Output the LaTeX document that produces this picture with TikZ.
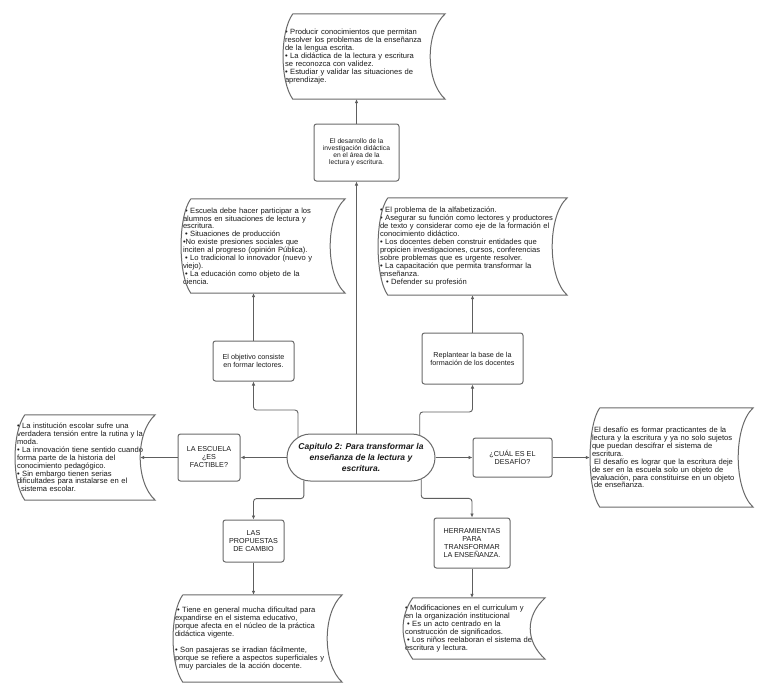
\documentclass[tikz,border=0pt]{standalone}
\usepackage{fontspec}
\setmainfont{Liberation Sans}
\usetikzlibrary{arrows.meta,shapes.misc}
\definecolor{ink}{HTML}{1A1A1A}
\definecolor{linegray}{HTML}{5E5E5E}
\definecolor{boxgray}{HTML}{6A6A6A}
\tikzset{
box/.style={draw=boxgray,rounded corners=2.5pt,line width=1pt,fill=white,align=center,inner sep=2pt,font=\fontsize{7.2}{8}\selectfont,text=ink},
doc/.style={align=left,inner xsep=2pt,inner ysep=0pt,font=\fontsize{7.6}{7.9}\selectfont,text=ink},
docline/.style={draw=boxgray,line width=1pt},
hub/.style={rounded rectangle,draw=boxgray,line width=1pt,fill=white,align=center,inner sep=0pt,minimum width=148pt,minimum height=47pt,font=\fontsize{8.5}{10.7}\selectfont\bfseries\itshape,text=ink},
arr/.style={-{Latex[length=4pt,width=3.6pt]},line width=.9pt,draw=linegray,rounded corners=3pt}}
\begin{document}
\begin{tikzpicture}[x=1pt,y=-1pt]
\path[fill=white,use as bounding box] (0,0) rectangle (768,699);
% centre and the eight boxes
\node[hub] (hub) at (361,457.5) {Capitulo 2: Para transformar la\\enseñanza de la lectura y\\escritura.};
\node[box,minimum width=85pt,minimum height=57pt,font=\fontsize{6.7}{7}\selectfont] (research) at (356.5,152.5) {El desarrollo de la\\investigación didáctica\\en el área de la\\lectura y escritura.};
\node[box,minimum width=81pt,minimum height=40pt] (goal) at (253.5,361) {El objetivo consiste\\en formar lectores.};
\node[box,minimum width=101pt,minimum height=51pt] (training) at (472.5,358.5) {Replantear la base de la\\formación de los docentes};
\node[box,minimum width=62pt,minimum height=47pt] (school) at (209,457.5) {LA ESCUELA\\¿ES\\FACTIBLE?};
\node[box,minimum width=79pt,minimum height=39pt] (challenge) at (512.5,457.5) {¿CUÁL ES EL\\DESAFÍO?};
\node[box,minimum width=61pt,minimum height=42pt] (proposals) at (253.5,541) {LAS\\PROPUESTAS\\DE CAMBIO};
\node[box,minimum width=76pt,minimum height=50pt] (tools) at (472,543) {HERRAMIENTAS\\PARA\\TRANSFORMAR\\LA ENSEÑANZA.};
% stored-data shapes
\node[doc,text width=158pt,minimum height=85pt] (doctop) at (364,56.5) {• Producir conocimientos que permitan\\resolver los problemas de la enseñanza\\de la lengua escrita.\\• La didáctica de la lectura y escritura\\se reconozca con validez.\\• Estudiar y validar las situaciones de\\aprendizaje.};
\node[doc,text width=160pt,minimum height=94pt] (docul) at (263,246) {\hspace{2pt}• Escuela debe hacer participar a los\\alumnos en situaciones de lectura y\\escritura.\\\hspace{2pt}• Situaciones de producción\\•No existe presiones sociales que\\inciten al progreso (opinión Pública).\\\hspace{2pt}• Lo tradicional lo innovador (nuevo y\\viejo).\\\hspace{2pt}• La educación como objeto de la\\ciencia.};
\node[doc,text width=185pt,minimum height=97pt] (docur) at (472.5,246.5) {• El problema de la alfabetización.\\• Asegurar su función como lectores y productores\\de texto y considerar como eje de la formación el\\conocimiento didáctico.\\• Los docentes deben construir entidades que\\propicien investigaciones, cursos, conferencias\\sobre problemas que es urgente resolver.\\• La capacitación que permita transformar la\\enseñanza.\\\hspace{6pt}• Defender su profesión};
\node[doc,text width=136pt,minimum height=85pt] (docl) at (85,457.5) {• La institución escolar sufre una\\verdadera tensión entre la rutina y la\\moda.\\• La innovación tiene sentido cuando\\forma parte de la historia del\\conocimiento pedagógico.\\• Sin embargo tienen serias\\dificultades para instalarse en el\\\hspace{4pt}sistema escolar.};
\node[doc,text width=159pt,minimum height=99pt] (docr) at (671.5,457.5) {\hspace{2pt}El desafío es formar practicantes de la\\lectura y la escritura y ya no solo sujetos\\que puedan descifrar el sistema de\\escritura.\\\hspace{2pt}El desafío es lograr que la escritura deje\\de ser en la escuela solo un objeto de\\evaluación, para constituirse en un objeto\\\hspace{2pt}de enseñanza.};
\node[doc,text width=165pt,minimum height=87pt] (docbl) at (257.5,638.5) {\hspace{2pt}• Tiene en general mucha dificultad para\\expandirse en el sistema educativo,\\porque afecta en el núcleo de la práctica\\didáctica vigente.\\[7.9pt]• Son pasajeras se irradian fácilmente,\\porque se refiere a aspectos superficiales y\\\hspace{4pt}muy parciales de la acción docente.};
\node[doc,text width=138pt,minimum height=61pt] (docbr) at (474,628.5) {• Modificaciones en el curriculum y\\en la organización institucional\\\hspace{2pt}• Es un acto centrado en la\\construcción de significados.\\\hspace{2pt}• Los niños reelaboran el sistema de\\escritura y lectura.};
\foreach \d in {doctop,docul,docur,docl,docr,docbl,docbr}
  \draw[docline] ([xshift=10pt]\d.north west) -- (\d.north east) .. controls +(-20,18) and +(-20,-18) .. (\d.south east) -- ([xshift=10pt]\d.south west) .. controls +(-13,-18) and +(-13,18) .. ([xshift=10pt]\d.north west);
% connectors
\draw[arr] (hub.north -| research.south) -- (research.south);
\draw[arr] (research.north) -- (research.north |- doctop.south);
\draw[arr] (hub.162) -- ++(0,-27) -| (goal.south);
\draw[arr] (goal.north) -- (goal.north |- docul.south);
\draw[arr] (hub.21) -- ++(0,-23) -| (training.south);
\draw[arr] (training.north) -- (training.north |- docur.south);
\draw[arr] (hub.west) -- (school.east);
\draw[arr] (school.west) -- ([xshift=-15pt]docl.east);
\draw[arr] (hub.east) -- (challenge.west);
\draw[arr] (challenge.east) -- (docr.west);
\draw[arr] (hub.202) -- ++(0,18) -| (proposals.north);
\draw[arr] (proposals.south) -- (proposals.south |- docbl.north);
\draw[arr] (hub.340) -- ++(0,19) -| (tools.north);
\draw[arr] (tools.south) -- (tools.south |- docbr.north);
\end{tikzpicture}
\end{document}
